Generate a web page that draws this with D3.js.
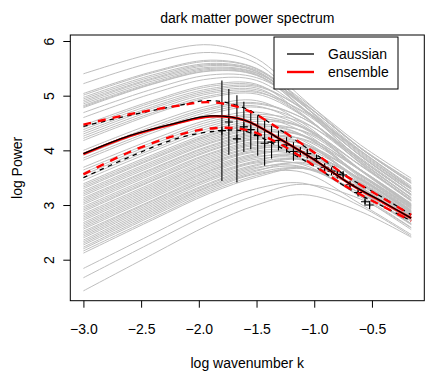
<!DOCTYPE html>
<html>
<head>
<meta charset="utf-8">
<script src="https://cdn.jsdelivr.net/npm/d3@7"></script>
<style>
body { margin: 0; background: #fff; }
text { font-family: "Liberation Sans", Arial, Helvetica, sans-serif; font-size: 14px; fill: #000; }
</style>
</head>
<body>
<div id="chart"></div>
<script>
var knotK = [-3, -2.4, -1.9, -1.5, -1.1, -0.6, -0.16];

// ensemble of simulated spectra (log P at knotK)
var ensembleCurves = [
  [5.40, 5.77, 5.93, 5.68, 4.95, 4.05, 3.45],
  [5.22, 5.61, 5.79, 5.59, 4.85, 3.90, 3.29],
  [5.04, 5.44, 5.65, 5.50, 4.89, 4.04, 3.41],
  [5.01, 5.42, 5.63, 5.49, 4.83, 3.93, 3.30],
  [4.97, 5.38, 5.59, 5.47, 4.92, 4.10, 3.49],
  [4.94, 5.35, 5.57, 5.45, 4.83, 3.95, 3.31],
  [4.91, 5.32, 5.55, 5.44, 4.77, 3.84, 3.20],
  [4.88, 5.30, 5.52, 5.42, 4.87, 4.04, 3.40],
  [4.85, 5.27, 5.50, 5.41, 4.87, 4.04, 3.40],
  [4.82, 5.24, 5.48, 5.39, 4.76, 3.84, 3.20],
  [4.80, 5.22, 5.46, 5.38, 4.83, 4.00, 3.35],
  [4.78, 5.21, 5.45, 5.37, 4.78, 3.90, 3.25],
  [4.69, 5.12, 5.38, 5.33, 4.86, 4.05, 3.43],
  [4.60, 5.04, 5.31, 5.28, 4.75, 3.90, 3.24],
  [4.46, 4.91, 5.20, 5.21, 4.66, 3.77, 3.09],
  [4.42, 4.88, 5.17, 5.19, 4.76, 3.97, 3.29],
  [4.38, 4.84, 5.13, 5.17, 4.76, 3.99, 3.32],
  [4.34, 4.80, 5.10, 5.14, 4.64, 3.76, 3.09],
  [4.30, 4.77, 5.07, 5.11, 4.70, 3.91, 3.24],
  [4.26, 4.73, 5.04, 5.08, 4.64, 3.80, 3.13],
  [4.22, 4.69, 5.00, 5.06, 4.72, 3.99, 3.32],
  [4.18, 4.66, 4.97, 5.03, 4.63, 3.81, 3.14],
  [4.00, 4.49, 4.82, 4.91, 4.50, 3.65, 2.98],
  [3.95, 4.44, 4.78, 4.87, 4.59, 3.84, 3.18],
  [3.91, 4.40, 4.75, 4.85, 4.59, 3.86, 3.20],
  [3.86, 4.36, 4.71, 4.81, 4.46, 3.63, 2.97],
  [3.82, 4.32, 4.67, 4.79, 4.53, 3.78, 3.12],
  [3.69, 4.20, 4.57, 4.70, 4.43, 3.64, 2.99],
  [3.64, 4.15, 4.53, 4.66, 4.51, 3.83, 3.18],
  [3.59, 4.11, 4.49, 4.63, 4.41, 3.64, 3.00],
  [3.55, 4.07, 4.45, 4.60, 4.34, 3.52, 2.88],
  [3.50, 4.02, 4.41, 4.57, 4.43, 3.72, 3.07],
  [3.45, 3.98, 4.37, 4.53, 4.42, 3.73, 3.09],
  [3.39, 3.92, 4.32, 4.49, 4.28, 3.50, 2.86],
  [3.36, 3.89, 4.29, 4.47, 4.35, 3.65, 3.01],
  [3.33, 3.86, 4.27, 4.45, 4.28, 3.54, 2.90],
  [3.30, 3.84, 4.24, 4.42, 4.36, 3.73, 3.09],
  [3.26, 3.80, 4.21, 4.39, 4.26, 3.55, 2.91],
  [3.23, 3.77, 4.18, 4.37, 4.18, 3.43, 2.80],
  [3.20, 3.74, 4.15, 4.34, 4.28, 3.63, 3.00],
  [3.17, 3.71, 4.13, 4.32, 4.27, 3.65, 3.02],
  [3.13, 3.67, 4.09, 4.29, 4.14, 3.41, 2.79],
  [3.10, 3.65, 4.07, 4.27, 4.20, 3.56, 2.94],
  [3.07, 3.62, 4.04, 4.24, 4.13, 3.45, 2.83],
  [3.04, 3.59, 4.01, 4.22, 4.21, 3.64, 3.03],
  [3.01, 3.56, 3.99, 4.20, 4.11, 3.47, 2.85],
  [2.97, 3.52, 3.95, 4.16, 4.03, 3.34, 2.73],
  [2.94, 3.49, 3.93, 4.14, 4.12, 3.54, 2.93],
  [2.91, 3.46, 3.90, 4.12, 4.12, 3.56, 2.95],
  [2.88, 3.44, 3.87, 4.09, 3.99, 3.33, 2.72],
  [2.84, 3.40, 3.84, 4.06, 4.05, 3.48, 2.87],
  [2.81, 3.37, 3.81, 4.04, 3.98, 3.37, 2.77],
  [2.78, 3.34, 3.78, 4.02, 4.07, 3.56, 2.96],
  [2.75, 3.31, 3.76, 3.99, 3.97, 3.38, 2.78],
  [2.72, 3.28, 3.73, 3.97, 3.89, 3.26, 2.66],
  [2.68, 3.25, 3.70, 3.94, 3.98, 3.46, 2.86],
  [2.65, 3.22, 3.67, 3.92, 3.97, 3.48, 2.89],
  [2.62, 3.19, 3.64, 3.89, 3.85, 3.25, 2.66],
  [2.59, 3.16, 3.62, 3.87, 3.91, 3.40, 2.81],
  [2.56, 3.13, 3.59, 3.84, 3.84, 3.29, 2.70],
  [2.52, 3.09, 3.56, 3.81, 3.92, 3.48, 2.89],
  [2.49, 3.07, 3.53, 3.79, 3.82, 3.30, 2.71],
  [2.46, 3.04, 3.50, 3.77, 3.74, 3.15, 2.55],
  [2.43, 3.01, 3.48, 3.74, 3.84, 3.38, 2.80],
  [2.40, 2.98, 3.45, 3.72, 3.83, 3.40, 2.82],
  [2.36, 2.95, 3.41, 3.69, 3.70, 3.17, 2.59],
  [2.33, 2.92, 3.39, 3.67, 3.76, 3.32, 2.75],
  [2.30, 2.89, 3.36, 3.64, 3.69, 3.21, 2.64],
  [2.27, 2.86, 3.34, 3.62, 3.78, 3.40, 2.83],
  [2.23, 2.83, 3.31, 3.59, 3.67, 3.22, 2.65],
  [2.20, 2.80, 3.28, 3.57, 3.60, 3.02, 2.46],
  [2.16, 2.76, 3.25, 3.54, 3.68, 3.30, 2.73],
  [2.12, 2.73, 3.22, 3.51, 3.67, 3.31, 2.75],
  [1.84, 2.47, 2.99, 3.30, 3.40, 2.98, 2.43],
  [1.67, 2.32, 2.85, 3.18, 3.38, 3.11, 2.58],
  [1.43, 2.10, 2.65, 3.00, 3.19, 2.88, 2.41]
];

// fitted mean and +-1 sigma bands
var fitK = [-3, -2.6, -2.2, -1.9, -1.6, -1.3, -1.0, -0.7, -0.4, -0.16];
var gaussMean  = [3.94, 4.27, 4.50, 4.63, 4.55, 4.21, 3.83, 3.40, 3.05, 2.76];
var gaussUpper = [4.44, 4.64, 4.81, 4.91, 4.77, 4.38, 3.95, 3.50, 3.13, 2.82];
var gaussLower = [3.50, 3.88, 4.21, 4.34, 4.35, 4.06, 3.71, 3.30, 2.97, 2.71];
var ensMean    = [3.93, 4.26, 4.49, 4.62, 4.55, 4.21, 3.83, 3.40, 3.04, 2.76];
var ensUpper   = [4.47, 4.66, 4.81, 4.88, 4.75, 4.39, 3.96, 3.50, 3.12, 2.82];
var ensLower   = [3.56, 3.97, 4.27, 4.40, 4.38, 4.12, 3.72, 3.31, 2.97, 2.71];

// measured band powers with errors
var obsK   = [-1.80, -1.74, -1.67, -1.61, -1.55, -1.49, -1.43, -1.37, -1.31, -1.24, -1.18,
              -1.12, -1.06, -0.98, -0.91, -0.85, -0.80, -0.75, -0.69, -0.62, -0.56, -0.52];
var obsP   = [4.36, 4.52, 4.21, 4.43, 4.38, 4.27, 4.13, 4.15, 4.18, 4.10, 3.98,
              3.97, 3.94, 3.85, 3.69, 3.62, 3.56, 3.55, 3.37, 3.23, 3.06, 3.00];
var obsErr = [0.92, 0.60, 0.80, 0.46, 0.36, 0.37, 0.41, 0.30, 0.18, 0.14, 0.17,
              0.09, 0.09, 0.06, 0.05, 0.05, 0.05, 0.05, 0.04, 0.04, 0.04, 0.04];

var xTicks = [-3, -2.5, -2, -1.5, -1, -0.5];
var yTicks = [2, 3, 4, 5, 6];
var legendLabels = ["Gaussian", "ensemble"];
var legendColors = ["#000000", "#ff0000"];

var width = 443, height = 372;
var plotL = 70.3, plotR = 424.3, plotT = 35, plotB = 300.7;

var svg = d3.select("#chart").append("svg")
    .attr("width", width)
    .attr("height", height);

// R style limits: data range plus 4% each side
var kLo = knotK[0], kHi = knotK[knotK.length - 1];
var allP = d3.merge(ensembleCurves);
var pLo = d3.min(allP), pHi = d3.max(allP);

var x = d3.scaleLinear()
    .domain([kLo - 0.04 * (kHi - kLo), kHi + 0.04 * (kHi - kLo)])
    .range([plotL, plotR]);

var y = d3.scaleLinear()
    .domain([pLo - 0.04 * (pHi - pLo), pHi + 0.04 * (pHi - pLo)])
    .range([plotB, plotT]);

var curveLine = d3.line()
    .x(function(d, i) { return x(knotK[i]); })
    .y(function(d) { return y(d); })
    .curve(d3.curveCatmullRom.alpha(0.5));

var fitLine = d3.line()
    .x(function(d, i) { return x(fitK[i]); })
    .y(function(d) { return y(d); })
    .curve(d3.curveCatmullRom.alpha(0.5));

svg.append("g")
  .selectAll("path")
    .data(ensembleCurves)
  .enter().append("path")
    .attr("d", curveLine)
    .style("fill", "none")
    .style("stroke", "#bebebe")
    .style("stroke-width", 1);

// error bars and points
svg.append("g")
  .selectAll("line")
    .data(obsK)
  .enter().append("line")
    .attr("x1", function(d) { return x(d); })
    .attr("x2", function(d) { return x(d); })
    .attr("y1", function(d, i) { return y(obsP[i] + obsErr[i]); })
    .attr("y2", function(d, i) { return y(obsP[i] - obsErr[i]); })
    .style("stroke", "#000")
    .style("stroke-width", 1.1);

svg.append("g")
  .selectAll("path")
    .data(obsK)
  .enter().append("path")
    .attr("d", function(d, i) {
      var px = x(d), py = y(obsP[i]);
      return "M" + (px - 4) + "," + py + "H" + (px + 4) + "M" + px + "," + (py - 4) + "V" + (py + 4);
    })
    .style("fill", "none")
    .style("stroke", "#000")
    .style("stroke-width", 1.1);

// bands
[gaussUpper, gaussLower].forEach(function(s) {
  svg.append("path")
      .attr("d", fitLine(s))
      .style("fill", "none")
      .style("stroke", "#000")
      .style("stroke-width", 1.3)
      .style("stroke-dasharray", "4.5,4.5");
});

[ensUpper, ensLower].forEach(function(s) {
  svg.append("path")
      .attr("d", fitLine(s))
      .style("fill", "none")
      .style("stroke", "#ff0000")
      .style("stroke-width", 2.4)
      .style("stroke-dasharray", "8,7");
});

svg.append("path")
    .attr("d", fitLine(ensMean))
    .style("fill", "none")
    .style("stroke", "#ff0000")
    .style("stroke-width", 2.4);

svg.append("path")
    .attr("d", fitLine(gaussMean))
    .style("fill", "none")
    .style("stroke", "#000")
    .style("stroke-width", 1.3);

// axes
var xAxis = svg.append("g")
    .attr("transform", "translate(0," + plotB + ")")
    .call(d3.axisBottom(x).tickValues(xTicks).tickFormat(d3.format(".1f")).tickSize(7).tickSizeOuter(0));
xAxis.select(".domain").remove();
xAxis.selectAll("text").attr("y", 28.5).attr("dy", "0.35em");

var yAxis = svg.append("g")
    .attr("transform", "translate(" + plotL + ",0)")
    .call(d3.axisLeft(y).tickValues(yTicks).tickFormat(d3.format("d")).tickSize(7).tickSizeOuter(0));
yAxis.select(".domain").remove();
yAxis.selectAll("text")
    .attr("x", 0)
    .attr("dy", "0.35em")
    .attr("text-anchor", "middle")
    .attr("transform", "translate(-21.5,0) rotate(-90)");

svg.selectAll(".tick line").style("stroke", "#000");

svg.append("rect")
    .attr("x", plotL)
    .attr("y", plotT)
    .attr("width", plotR - plotL)
    .attr("height", plotB - plotT)
    .style("fill", "none")
    .style("stroke", "#000")
    .style("stroke-width", 1);

// titles
svg.append("text")
    .attr("x", (plotL + plotR) / 2)
    .attr("y", 18)
    .attr("dy", "0.35em")
    .attr("text-anchor", "middle")
    .text("dark matter power spectrum");

svg.append("text")
    .attr("x", (plotL + plotR) / 2)
    .attr("y", 363)
    .attr("dy", "0.35em")
    .attr("text-anchor", "middle")
    .text("log wavenumber k");

svg.append("text")
    .attr("transform", "translate(17," + (plotT + plotB) / 2 + ") rotate(-90)")
    .attr("dy", "0.35em")
    .attr("text-anchor", "middle")
    .text("log Power");

// legend
var legend = svg.append("g")
    .attr("transform", "translate(274,37)");

legend.append("rect")
    .attr("width", 124)
    .attr("height", 52)
    .style("fill", "#fff")
    .style("stroke", "#000")
    .style("stroke-width", 1);

var item = legend.selectAll(".item")
    .data(legendLabels)
  .enter().append("g")
    .attr("class", "item")
    .attr("transform", function(d, i) { return "translate(0," + (17 + i * 18) + ")"; });

item.append("line")
    .attr("x1", 13)
    .attr("x2", 40)
    .style("stroke", function(d, i) { return legendColors[i]; })
    .style("stroke-width", function(d, i) { return i ? 2.4 : 1.3; });

item.append("text")
    .attr("x", 54)
    .attr("dy", "0.35em")
    .text(function(d) { return d; });
</script>
</body>
</html>
